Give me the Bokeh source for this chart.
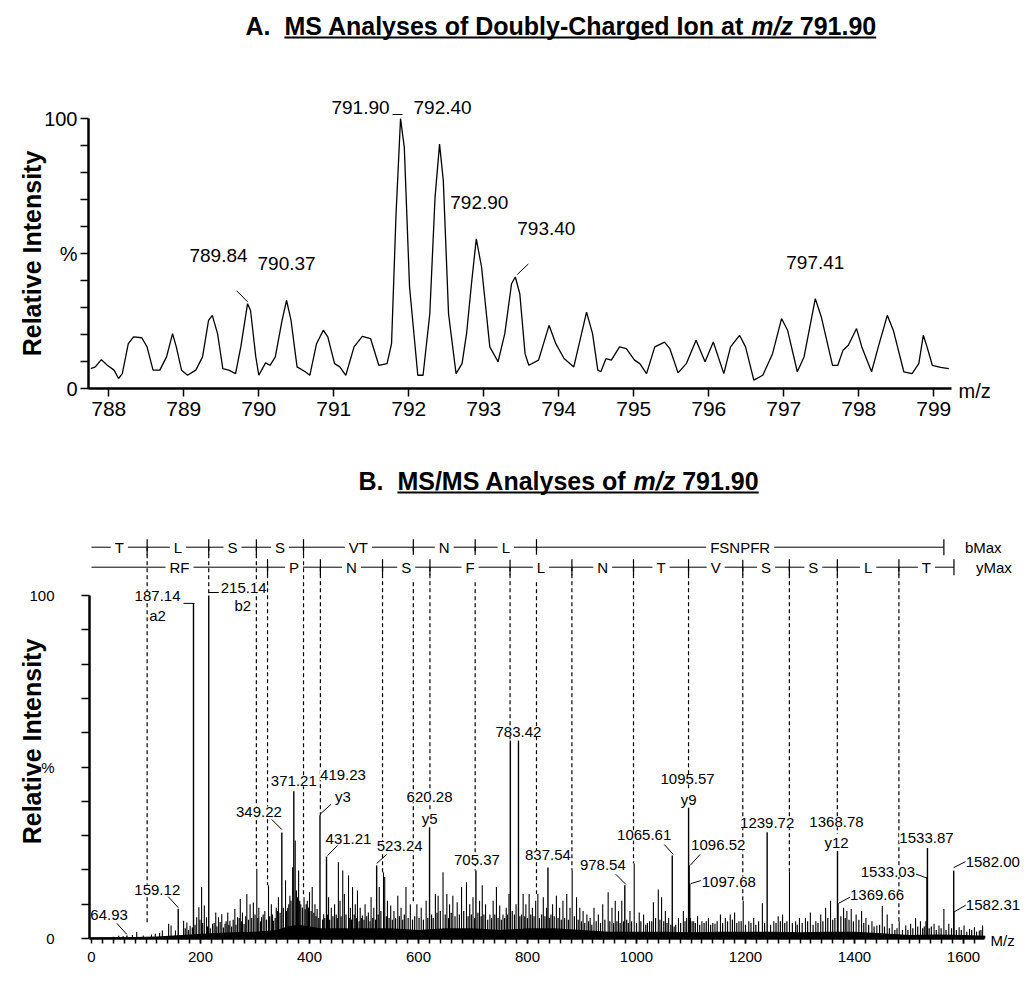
import math
from bokeh.plotting import figure
from bokeh.layouts import column
from bokeh.models import Range1d, FixedTicker
from bokeh.embed import file_html
from bokeh.resources import INLINE
from bokeh.core.properties import value

# ======================= DATA =======================
# Panel A: MS profile trace (m/z, relative intensity %)
ms1_mz = [787.76, 787.82, 787.90, 787.98, 788.07, 788.13, 788.18, 788.26, 788.33, 788.44,
          788.51, 788.59, 788.68, 788.77, 788.85, 788.90, 788.97, 789.05, 789.16, 789.25,
          789.33, 789.38, 789.45, 789.52, 789.60, 789.69, 789.76, 789.85, 789.89, 789.96,
          790.00, 790.09, 790.15, 790.22, 790.31, 790.37, 790.43, 790.51, 790.62, 790.68,
          790.77, 790.86, 790.92, 791.01, 791.08, 791.16, 791.27, 791.38, 791.49, 791.60,
          791.71, 791.77, 791.83, 791.89, 791.94, 792.01, 792.12, 792.19, 792.28, 792.35,
          792.41, 792.46, 792.53, 792.63, 792.71, 792.77, 792.84, 792.90, 792.97, 793.08,
          793.19, 793.28, 793.37, 793.42, 793.48, 793.55, 793.60, 793.73, 793.87, 793.96,
          794.07, 794.20, 794.37, 794.45, 794.52, 794.56, 794.63, 794.70, 794.81, 794.90,
          795.01, 795.08, 795.17, 795.28, 795.41, 795.48, 795.59, 795.70, 795.83, 795.95,
          796.06, 796.20, 796.29, 796.41, 796.49, 796.60, 796.72, 796.85, 796.97, 797.05,
          797.18, 797.27, 797.42, 797.50, 797.65, 797.72, 797.79, 797.86, 797.97, 798.04,
          798.17, 798.26, 798.38, 798.46, 798.60, 798.71, 798.80, 798.86, 798.91, 798.98,
          799.09, 799.20]
ms1_int = [7.4, 8.0, 10.7, 8.6, 6.8, 3.7, 5.5, 16.6, 19.1, 18.8,
           15.4, 6.8, 6.8, 11.7, 20.3, 15.4, 6.8, 4.9, 6.8, 11.7,
           25.2, 27.1, 20.3, 7.4, 6.8, 5.5, 15.4, 31.4, 28.9, 11.7,
           4.9, 9.5, 8.6, 11.7, 25.2, 32.6, 25.2, 8.0, 6.2, 4.9,
           16.6, 21.6, 19.1, 9.2, 8.0, 4.9, 15.4, 19.3, 18.5, 8.6,
           9.2, 16.6, 64.7, 100.0, 89.3, 37.6, 4.9, 4.9, 27.7, 70.8,
           90.5, 77.0, 27.7, 5.5, 9.2, 20.3, 40.0, 55.4, 45.0, 15.4,
           9.9, 20.3, 38.8, 41.3, 35.1, 12.9, 8.6, 10.5, 23.4, 16.6,
           11.1, 8.0, 28.3, 20.3, 6.8, 6.2, 11.1, 10.5, 15.4, 14.8,
           10.5, 9.2, 5.5, 15.4, 17.2, 14.8, 5.8, 9.2, 17.9, 9.9,
           17.2, 5.5, 15.4, 19.7, 15.4, 3.1, 4.9, 12.9, 25.9, 21.6,
           6.2, 11.7, 33.3, 26.5, 8.6, 8.6, 14.2, 16.0, 22.2, 15.4,
           6.2, 15.4, 27.1, 21.6, 6.2, 5.5, 9.2, 19.7, 15.4, 8.6,
           7.8, 7.4]
ms1_label_text = ["789.84", "790.37", "791.90", "792.40", "792.90", "793.40", "797.41"]
ms1_label_mz = [789.85, 790.37, 791.89, 792.41, 792.90, 793.42, 797.42]
ms1_label_int = [31.4, 32.6, 100.0, 90.5, 55.4, 41.3, 33.3]
ms1_x_ticks = [788, 789, 790, 791, 792, 793, 794, 795, 796, 797, 798, 799]
y_tick_labels = {0: "0", 50: "%", 100: "100"}

# Panel B: MS/MS stick spectrum
ms2_peak_mz = [64.93, 159.12, 187.14, 215.14, 349.22, 371.21, 419.23, 431.21, 523.24, 620.28,
               705.37, 768.5, 783.42, 837.54, 978.54, 1065.61, 1095.57, 1096.52, 1097.68, 1239.72,
               1368.78, 1369.66, 1533.03, 1533.87, 1582.00, 1582.31]
ms2_peak_int = [0.9, 8.7, 97.7, 100.0, 30.9, 42.9, 35.9, 23.9, 21.3, 32.4,
                19.8, 57.7, 57.7, 20.7, 15.5, 24.2, 38.3, 21.3, 16.0, 31.0,
                25.7, 10.3, 17.9, 26.4, 19.8, 7.7]
ms2_label_text = ["64.93", "159.12", "187.14", "215.14", "349.22", "371.21", "419.23", "431.21",
                  "523.24", "620.28", "705.37", "783.42", "837.54", "978.54", "1065.61", "1095.57",
                  "1096.52", "1097.68", "1239.72", "1368.78", "1369.66", "1533.03", "1533.87",
                  "1582.00", "1582.31"]
ms2_ion_text = ["a2", "b2", "y3", "y5", "y9", "y12"]
ms2_ion_mz = [187.14, 215.14, 419.23, 620.28, 1095.57, 1368.78]

ms2_noise_mz = [40, 50, 58, 75, 83, 95, 110, 117, 125, 130, 141.5, 146, 154, 169, 175, 181, 193, 197,
                202, 207, 211, 222, 228, 233, 239, 245, 250, 254, 263, 268, 273, 277, 285, 291, 297,
                303.3, 307, 312, 318, 324.8, 330, 334, 339, 343, 356, 360, 364, 369, 373.8, 380, 384,
                390, 396, 400, 405, 410, 414, 426, 435, 440, 446, 453, 456, 461, 464, 471.6, 475, 479,
                484, 488, 493, 497, 502, 508, 513, 518, 528, 535.8, 538, 543, 549, 555,
                562, 568, 577, 585, 597, 605, 614, 631, 636, 645, 652, 657, 663, 671, 679, 688, 694,
                700, 712, 717, 723, 731, 737, 743, 749, 755, 761, 766, 779, 792, 797, 803, 809, 815,
                819, 829, 835, 846, 853, 859, 865, 872, 878, 882, 890, 896, 902, 909, 915, 922, 930,
                938, 948, 955, 961, 967, 973, 988, 995.8, 1005, 1013, 1024, 1031, 1040, 1046, 1053,
                1059, 1077, 1086, 1092, 1105, 1112, 1120, 1132, 1144, 1154, 1163, 1172, 1180, 1188,
                1195.8, 1206, 1215, 1231, 1252, 1260, 1268, 1280.7, 1292, 1299, 1310, 1319, 1329,
                1338, 1347, 1356, 1380, 1386, 1394, 1403, 1413, 1421, 1432, 1441, 1451, 1460, 1469,
                1482, 1494, 1503, 1512, 1521, 1531, 1546, 1555, 1564, 1573, 1592, 1601, 1611, 1620,
                1629, 1635]
ms2_noise_int = [0.5, 0.8, 0.7, 1.0, 1.9, 0.9, 1.2, 1.4, 1.6, 2.3, 4.3, 3.8, 2.3, 5.2, 4.7, 3.7, 6.2, 9.1,
                 15.0, 9.6, 6.2, 4.3, 7.6, 6.2, 7.1, 4.3, 7.6, 5.2, 8.6, 6.2, 11.5, 7.6, 13.0, 10.0, 10.5,
                 20.3, 9.0, 6.2, 8.0, 15.5, 10.0, 5.2, 9.0, 12.0, 17.0, 9.0, 12.5, 20.8, 28.6, 19.8, 10.0,
                 12.0, 11.0, 13.5, 15.0, 10.0, 8.6, 7.1, 12.0, 9.0, 10.0, 22.2, 11.0, 19.8, 13.0, 18.4, 9.0, 15.0,
                 10.0, 14.0, 9.0, 6.7, 10.0, 7.6, 12.0, 9.0, 15.0, 19.3, 17.9, 11.0, 9.6, 8.0,
                 12.5, 9.0, 15.0, 10.0, 10.0, 9.0, 11.0, 13.0, 12.5, 19.3, 13.0, 10.0, 12.5, 10.6, 15.0, 16.4, 10.0,
                 12.0, 11.0, 15.5, 10.0, 7.0, 11.0, 15.0, 9.6, 7.0, 9.0, 13.0, 10.0, 13.0, 10.0, 13.0, 9.0, 11.0,
                 13.0, 12.0, 9.0, 10.0, 12.5, 9.0, 11.0, 13.0, 9.0, 19.8, 12.0, 9.0, 8.0, 7.0, 6.0, 9.0, 7.0,
                 10.0, 13.5, 9.0, 11.0, 8.0, 11.0, 8.0, 21.9, 7.6, 7.0, 5.0, 10.6, 14.3, 12.0, 8.0,
                 6.0, 6.0, 8.0, 6.0, 5.0, 6.5, 5.0, 6.0, 4.3, 7.0, 6.0, 7.0, 7.6, 5.0,
                 11.0, 5.0, 6.0, 10.3, 5.0, 6.5, 7.0, 19.5, 5.0, 6.0, 6.0, 7.6, 5.0,
                 7.0, 9.0, 11.0, 9.0, 8.0, 8.6, 7.0, 8.0, 6.0, 5.0, 3.8, 9.5, 7.0, 4.3,
                 5.0, 3.8, 4.3, 6.0, 5.0, 5.0, 4.3, 3.8, 8.6, 4.3, 3.3, 3.8, 2.8, 3.3,
                 2.3, 3.8]
# lower, denser "grass" sticks between the readable peaks (estimated)
ms2_grass_mz = [172, 178, 185, 190, 199, 204, 213, 218, 225, 230, 236, 242, 247, 252, 257, 260, 265, 271,
                275, 280, 283, 288, 294, 300, 305, 310, 315, 321, 327, 332, 337, 341, 346, 352, 358, 362,
                366, 376, 378, 382, 387, 392, 394, 398, 403, 408, 412, 417, 424, 428, 433, 437, 443, 449,
                451, 458, 467, 473, 477, 482, 486, 491, 495, 500, 505, 511, 516, 521, 526, 531, 541, 546,
                552, 558, 565, 571, 574, 581, 589, 593, 601, 609, 617, 624, 627, 634, 640, 649, 655, 660,
                667, 675, 683, 691, 697, 703, 709, 715, 720, 727, 734, 740, 746, 752, 758, 763, 772, 776,
                786, 789, 795, 800, 806, 812, 822, 826, 832, 840, 843, 849, 856, 862, 868, 875, 886, 893,
                899, 905, 912, 918, 926, 934, 942, 951, 958, 964, 970, 976, 982, 985, 991, 1000, 1008,
                1017, 1020, 1028, 1035, 1043, 1050, 1056, 1063, 1069, 1072, 1081, 1089, 1099, 1102, 1108,
                1116, 1124, 1128, 1136, 1140, 1148, 1158, 1167, 1176, 1184, 1192, 1200, 1210, 1219, 1224,
                1235, 1246, 1256, 1264, 1272, 1276, 1286, 1295, 1304, 1314, 1324, 1333, 1342, 1351, 1360,
                1364, 1375, 1383, 1390, 1398, 1408, 1417, 1426, 1436, 1446, 1455, 1464, 1474, 1478, 1488,
                1498, 1507, 1516, 1525, 1528, 1537, 1541, 1550, 1559, 1568, 1578, 1587, 1596, 1606, 1615,
                1624, 1632]
ms2_grass_int = [3.0, 2.5, 3.2, 4.0, 5.5, 4.5, 3.5, 3.0, 4.5, 3.5, 4.8, 3.2, 5.0, 4.0, 3.5, 5.5, 4.0, 6.0,
                 5.0, 4.2, 6.5, 5.5, 6.0, 7.0, 6.0, 5.0, 7.0, 5.5, 6.5, 7.0, 6.0, 8.0, 7.5, 9.0, 8.0, 10.0,
                 11.0, 14.0, 12.0, 11.0, 9.0, 8.5, 10.0, 9.0, 8.0, 7.5, 6.5, 6.0, 5.5, 6.0, 7.0, 5.5, 6.5, 7.0,
                 6.0, 6.5, 7.0, 6.0, 5.5, 7.0, 6.0, 5.0, 6.0, 5.5, 6.5, 5.0, 6.0, 5.5, 7.0, 8.0, 6.5, 6.0,
                 5.5, 6.0, 6.5, 5.5, 7.0, 6.0, 5.5, 6.5, 6.0, 5.5, 6.0, 7.0, 6.0, 7.5, 8.0, 7.0, 6.0, 7.5,
                 6.5, 7.0, 8.0, 6.5, 7.0, 6.0, 7.5, 6.5, 7.0, 5.5, 6.0, 7.0, 6.0, 5.5, 6.0, 7.0, 8.0, 7.0,
                 6.5, 7.0, 6.5, 6.0, 7.0, 6.5, 6.0, 7.0, 6.5, 6.0, 7.0, 6.5, 6.0, 5.5, 6.0, 5.5, 6.5, 5.5,
                 5.0, 4.5, 5.0, 4.0, 5.0, 4.5, 5.5, 5.0, 4.5, 5.0, 4.5, 5.0, 5.5, 4.5, 5.0, 4.5, 5.0,
                 4.0, 4.5, 5.0, 6.0, 5.5, 5.0, 4.5, 4.0, 3.5, 4.0, 4.5, 5.0, 6.0, 5.0, 4.5,
                 4.0, 4.5, 5.0, 4.0, 4.5, 5.0, 4.5, 5.0, 5.5, 4.5, 5.0, 4.0, 4.5, 4.0, 5.0,
                 4.5, 4.0, 4.5, 5.0, 4.5, 5.0, 4.5, 4.0, 4.5, 5.0, 4.0, 4.5, 5.0, 6.0, 5.5,
                 6.0, 6.5, 6.0, 5.5, 5.0, 5.5, 4.5, 4.0, 3.5, 4.0, 3.5, 3.0, 2.5, 3.0, 2.5,
                 2.5, 3.0, 3.5, 3.0, 3.5, 3.0, 3.5, 2.5, 3.0, 2.5, 3.0, 2.5, 2.5, 2.0, 2.5,
                 2.0, 2.5]
# solid low-level baseline envelope
ms2_floor_mz = [0, 60, 120, 150, 180, 220, 260, 300, 340, 360, 380, 400, 420, 450, 500, 550, 600, 650,
                700, 750, 800, 850, 900, 950, 1000, 1050, 1100, 1150, 1200, 1250, 1300, 1350, 1400,
                1450, 1500, 1550, 1600, 1640]
ms2_floor_int = [0.3, 0.4, 0.6, 0.9, 1.2, 1.5, 1.8, 2.0, 2.5, 3.5, 4.0, 3.5, 3.0, 3.0, 3.0, 3.0, 2.5, 3.0,
                 3.0, 2.5, 3.0, 3.0, 2.5, 2.0, 2.0, 2.0, 1.8, 2.0, 2.0, 2.0, 1.8, 2.0, 2.0,
                 1.5, 1.0, 1.2, 1.0, 0.8]
ms2_x_ticks = [0, 200, 400, 600, 800, 1000, 1200, 1400, 1600]

# Sequence ladders
b_bounds = [102.1, 215.1, 302.5, 389.0, 590.5, 704.0, 816.5]
b_max = 1564.0
b_letters = ["T", "L", "S", "S", "VT", "N", "L", "FSNPFR"]
b_dash_end = [4.7, 100.0, 20.3, 12.0, 10.0, 19.8, 13.0]
y_bounds = [323.0, 420.0, 534.0, 621.0, 768.0, 881.5, 994.5, 1095.5, 1195.0, 1280.5, 1368.5, 1481.5]
y_max = 1582.5
y_letters = ["RF", "P", "N", "S", "F", "L", "N", "T", "V", "S", "S", "L", "T"]
y_dash_end = [15.5, 35.9, 19.3, 32.4, 57.7, 19.8, 21.9, 38.3, 11.0, 19.5, 25.7, 5.0]

# ======================= STYLE / GEOMETRY =======================
FONT = "Liberation Sans"
W = 1035
# panel A: frame covers the whole figure (page x 0..1035, y 0..463)
A_H = 463
AX, AY = 75.0, 2.7
A_ZERO_PY = 388.0           # page y of intensity 0
A_X0 = 788 - 108.3 / AX
A_X1 = A_X0 + W / AX
A_Y0 = -(A_H - A_ZERO_PY) / AY
A_Y1 = A_ZERO_PY / AY
A_AXIS_X = 788 - (108.3 - 88) / AX

# panel B: page x 0..1035, y 463..978
B_H = 515
B_TOP = A_H
BX, BY = 0.545, 3.43
B_ZERO_PY = 938.0
B_X0 = -91 / BX
B_X1 = B_X0 + W / BX
B_Y0 = -(B_TOP + B_H - B_ZERO_PY) / BY
B_Y1 = (B_ZERO_PY - B_TOP) / BY
B_AXIS_X = -(91 - 89) / BX


def a_page(px, py):
    return A_X0 + px / AX, (A_ZERO_PY - py) / AY


def b_page(px, py):
    return B_X0 + px / BX, (B_ZERO_PY - py) / BY


BOLD_W = {'A': 722, '.': 278, ' ': 278, 'M': 833, 'S': 667, 'n': 611, 'a': 556, 'l': 278, 'y': 556,
          's': 556, 'e': 556, 'o': 611, 'f': 333, 'D': 722, 'u': 611, 'b': 611, '-': 333, 'C': 722,
          'h': 611, 'r': 389, 'g': 611, 'd': 611, 'I': 278, 't': 333, 'm': 889, '/': 278, 'z': 500,
          '7': 556, '9': 556, '1': 556, '0': 556, 'B': 722}


def tw(s, size):
    return sum(BOLD_W.get(c, 556) for c in s) * size / 1000.0


def add_title(p, conv, left_px, cy_px, parts, size=25):
    x = left_px
    ul_start = None
    for text, style, underline in parts:
        lead = len(text) - len(text.lstrip())
        if underline and ul_start is None:
            ul_start = x + tw(text[:lead], size)
        if text.strip():
            lx, ly = conv(x + tw(text[:lead], size), cy_px)
            p.text(x=[lx], y=[ly], text=[text.strip()], text_font=value(FONT), text_font_size="%dpx" % size,
                   text_font_style=style, text_align="left", text_baseline="middle", text_color="black")
        x += tw(text, size)
    x0, y0 = conv(ul_start, cy_px + 12)
    x1, y1 = conv(x, cy_px + 12)
    p.segment(x0=[x0], y0=[y0], x1=[x1], y1=[y1], line_color="black", line_width=2)


def style_fig(p):
    p.outline_line_color = None
    p.grid.visible = False
    p.background_fill_color = "white"
    p.border_fill_color = "white"


def add_text(p, xs, ys, texts, aligns, dxs, dys, size, bg=False):
    for al in ("left", "center", "right"):
        idx = [i for i, a in enumerate(aligns) if a == al]
        if not idx:
            continue
        kw = {}
        if bg:
            kw = dict(background_fill_color="white", padding=0)
        p.text(x=[xs[i] for i in idx], y=[ys[i] for i in idx], text=[texts[i] for i in idx],
               x_offset=[dxs[i] for i in idx], y_offset=[dys[i] for i in idx],
               text_align=al, text_baseline="middle", text_font=value(FONT),
               text_font_size=size, text_color="black", **kw)


def add_side_text(p, conv, px, py, text, size, style="normal", angle=0.0, align="left"):
    lx, ly = conv(px, py)
    p.text(x=[lx], y=[ly], text=[text], angle=angle, text_align=align, text_baseline="middle",
           text_font=value(FONT), text_font_size=size, text_font_style=style, text_color="black")


# ======================= PANEL A =======================
pA = figure(width=W, height=A_H, output_backend="svg", toolbar_location=None,
            x_range=Range1d(A_X0, A_X1), y_range=Range1d(A_Y0, A_Y1), min_border=0)
style_fig(pA)
pA.line(ms1_mz, ms1_int, line_color="black", line_width=1.3)

pA.xaxis.fixed_location = 0
pA.yaxis.fixed_location = A_AXIS_X
pA.xaxis.ticker = FixedTicker(ticks=ms1_x_ticks)
pA.xaxis.bounds = (A_AXIS_X, 799.23)
pA.yaxis.ticker = FixedTicker(ticks=[0, 50, 100], minor_ticks=[10, 20, 30, 40, 60, 70, 80, 90])
pA.yaxis.bounds = (0, 100)
pA.yaxis.major_label_overrides = y_tick_labels
for ax in (pA.xaxis[0], pA.yaxis[0]):
    ax.axis_line_width = 2.5
    ax.axis_line_color = "black"
    ax.major_tick_in = 0
    ax.major_tick_out = 8
    ax.minor_tick_in = 0
    ax.minor_tick_out = 8
    ax.major_tick_line_width = 1.5
    ax.minor_tick_line_width = 1.5
    ax.major_label_text_font = FONT
    ax.major_label_text_font_size = "20px"
    ax.major_label_text_color = "black"
pA.xaxis.minor_tick_line_color = None
pA.xaxis.major_label_text_font_size = "21px"
pA.xaxis.major_label_standoff = 5
pA.yaxis.major_label_standoff = 3

A_LABEL_STYLE = {
    "789.84": ("right", 0, -48, (-11, -13, 0, -2)),
    "790.37": ("center", 0, -37, None),
    "791.90": ("right", -11, -11, (-8, -4, 2, -4)),
    "792.40": ("center", 3, -37, None),
    "792.90": ("center", 3, -36, None),
    "793.40": ("left", 2, -48, (2, -2.5, 13, -13)),
    "797.41": ("center", 0, -36, None),
}
al, dx, dy, lx0, ly0, lx1, ly1 = [], [], [], [], [], [], []
for t, m, v in zip(ms1_label_text, ms1_label_mz, ms1_label_int):
    a, ddx, ddy, lead = A_LABEL_STYLE[t]
    al.append(a); dx.append(ddx); dy.append(ddy)
    if lead:
        lx0.append(m + lead[0] / AX); ly0.append(v - lead[1] / AY)
        lx1.append(m + lead[2] / AX); ly1.append(v - lead[3] / AY)
add_text(pA, ms1_label_mz, ms1_label_int, ms1_label_text, al, dx, dy, "19px")
pA.segment(x0=lx0, y0=ly0, x1=lx1, y1=ly1, line_color="black", line_width=1)

add_title(pA, a_page, 245, 25, [("A.", "bold", False), ("  ", "bold", False),
                                ("MS Analyses of Doubly-Charged Ion at ", "bold", True),
                                ("m/z", "bold italic", True), (" 791.90", "bold", True)])
add_side_text(pA, a_page, 31, 253, "Relative Intensity", "25px", "bold", math.pi / 2, "center")
add_side_text(pA, a_page, 958, 390, "m/z", "20px")

# ======================= PANEL B =======================
pB = figure(width=W, height=B_H, output_backend="svg", toolbar_location=None,
            x_range=Range1d(B_X0, B_X1), y_range=Range1d(B_Y0, B_Y1), min_border=0)
style_fig(pB)

ROW_B = (B_ZERO_PY - 546.7) / BY
ROW_Y = (B_ZERO_PY - 566.7) / BY
TICK_H = 8 / BY

# dashed fragment lines
pB.segment(x0=b_bounds, y0=[ROW_B] * len(b_bounds), x1=b_bounds, y1=b_dash_end,
           line_color="black", line_width=1.2, line_dash="4 3")
pB.segment(x0=y_bounds, y0=[ROW_Y] * len(y_bounds), x1=y_bounds, y1=y_dash_end,
           line_color="black", line_width=1.2, line_dash="4 3")

# spectrum
pB.varea(x=ms2_floor_mz, y1=[0] * len(ms2_floor_mz), y2=ms2_floor_int, fill_color="black")
pB.segment(x0=ms2_grass_mz, y0=[0] * len(ms2_grass_mz), x1=ms2_grass_mz, y1=ms2_grass_int,
           line_color="black", line_width=1.2)
pB.segment(x0=ms2_noise_mz, y0=[0] * len(ms2_noise_mz), x1=ms2_noise_mz, y1=ms2_noise_int,
           line_color="black", line_width=1.1)
pB.segment(x0=ms2_peak_mz, y0=[0] * len(ms2_peak_mz), x1=ms2_peak_mz, y1=ms2_peak_int,
           line_color="black", line_width=1.4)

# ladders
pB.segment(x0=[0, 0], y0=[ROW_B, ROW_Y], x1=[b_max, y_max], y1=[ROW_B, ROW_Y],
           line_color="black", line_width=1)
bt = b_bounds + [b_max]
yt = y_bounds + [y_max]
pB.segment(x0=bt, y0=[ROW_B - TICK_H] * len(bt), x1=bt, y1=[ROW_B + TICK_H] * len(bt),
           line_color="black", line_width=1.2)
pB.segment(x0=yt, y0=[ROW_Y - TICK_H] * len(yt), x1=yt, y1=[ROW_Y + TICK_H] * len(yt),
           line_color="black", line_width=1.2)
b_edges = [0] + bt
y_edges = [0] + yt
b_mid = [(b_edges[i] + b_edges[i + 1]) / 2 for i in range(len(b_letters))]
y_mid = [(y_edges[i] + y_edges[i + 1]) / 2 for i in range(len(y_letters))]
pB.text(x=b_mid, y=[ROW_B] * len(b_mid), text=b_letters, text_align="center", text_baseline="middle",
        text_font=value(FONT), text_font_size="15px", text_color="black",
        background_fill_color="white", padding=4)
pB.text(x=y_mid, y=[ROW_Y] * len(y_mid), text=y_letters, text_align="center", text_baseline="middle",
        text_font=value(FONT), text_font_size="15px", text_color="black",
        background_fill_color="white", padding=4)
pB.text(x=[b_max, y_max], y=[ROW_B, ROW_Y], text=["bMax", "yMax"], x_offset=[21, 22], y_offset=[0, 0],
        text_align="left", text_baseline="middle", text_font=value(FONT), text_font_size="15px",
        text_color="black")

# peak labels
B_LABEL_STYLE = {
    "64.93": ("right", 1, -20, (-10, -12, 0, -1)),
    "159.12": ("right", 2, -19, (-10, -12, 0, -1)),
    "187.14": ("right", -13, -7, (-10, 0, 1, 0)),
    "215.14": ("left", 12, -8, (0, -3, 10, -3)),
    "349.22": ("right", 0, -21, (-10, -13, 0, -3)),
    "371.21": ("center", 0, -10, None),
    "419.23": ("center", 23, -40, (1, -2, 11, -11)),
    "431.21": ("center", 22, -18, (1, -1, 11, -11)),
    "523.24": ("center", 23, -19, (0, -2, 10, -11)),
    "620.28": ("center", 0, -30, None),
    "705.37": ("center", 1, -11, None),
    "783.42": ("center", 0, -9, None),
    "837.54": ("center", 0, -12, None),
    "978.54": ("right", 1, -20, (-9, -11, 1, -1)),
    "1065.61": ("right", -1, -20, (-8, -11, 1, -1)),
    "1095.57": ("center", -1, -28, None),
    "1096.52": ("left", 2, -20, (1, 0, 11, -11)),
    "1097.68": ("left", 12, -2, (1, 0, 11, -3)),
    "1239.72": ("center", 0, -9, None),
    "1368.78": ("center", -1, -28, None),
    "1369.66": ("left", 12, -8, (1, 0, 12, -6)),
    "1533.87": ("center", -1, -10, None),
    "1533.03": ("right", -12, -5, (-11, -3, 0, 1)),
    "1582.00": ("left", 12, -9, (0, -3, 12, -9)),
    "1582.31": ("left", 12, -7, (0, 0, 12, -7)),
}
ION_STYLE = {"a2": (-36, 12), "b2": (34, 10), "y3": (23, -19), "y5": (0, -9), "y9": (0, -8), "y12": (-1, -8)}

peak_lookup = dict(zip(ms2_peak_mz, ms2_peak_int))
lab_x, lab_y, al, dx, dy, lx0, ly0, lx1, ly1 = [], [], [], [], [], [], [], [], []
for t in ms2_label_text:
    m = float(t)
    v = peak_lookup[m]
    a, ddx, ddy, lead = B_LABEL_STYLE[t]
    lab_x.append(m); lab_y.append(v); al.append(a); dx.append(ddx); dy.append(ddy)
    if lead:
        lx0.append(m + lead[0] / BX); ly0.append(v - lead[1] / BY)
        lx1.append(m + lead[2] / BX); ly1.append(v - lead[3] / BY)
pB.segment(x0=lx0, y0=ly0, x1=lx1, y1=ly1, line_color="black", line_width=1)
add_text(pB, lab_x, lab_y, ms2_label_text, al, dx, dy, "15px", bg=True)
ion_y = [peak_lookup[m] for m in ms2_ion_mz]
add_text(pB, ms2_ion_mz, ion_y, ms2_ion_text, ["center"] * len(ms2_ion_text),
         [ION_STYLE[t][0] for t in ms2_ion_text], [ION_STYLE[t][1] for t in ms2_ion_text], "15px", bg=True)

# axes B
pB.xaxis.fixed_location = 0
pB.yaxis.fixed_location = B_AXIS_X
pB.xaxis.ticker = FixedTicker(ticks=ms2_x_ticks, minor_ticks=list(range(20, 1640, 20)))
pB.xaxis.bounds = (B_AXIS_X, 1638)
pB.yaxis.ticker = FixedTicker(ticks=[0, 50, 100], minor_ticks=[10, 20, 30, 40, 60, 70, 80, 90])
pB.yaxis.bounds = (0, 100)
pB.yaxis.major_label_overrides = y_tick_labels
for ax in (pB.xaxis[0], pB.yaxis[0]):
    ax.axis_line_width = 2.5
    ax.axis_line_color = "black"
    ax.major_tick_in = 0
    ax.minor_tick_in = 0
    ax.major_tick_line_width = 1.5
    ax.minor_tick_line_width = 1.5
    ax.major_label_text_font = FONT
    ax.major_label_text_font_size = "15px"
    ax.major_label_text_color = "black"
pB.xaxis.major_tick_out = 5
pB.xaxis.minor_tick_out = 5
pB.xaxis.major_label_standoff = 8
pB.yaxis.major_tick_out = 8
pB.yaxis.minor_tick_out = 8
pB.yaxis.major_label_standoff = 27

add_title(pB, b_page, 358, 480, [("B.", "bold", False), ("  ", "bold", False),
                                 ("MS/MS Analyses of ", "bold", True),
                                 ("m/z", "bold italic", True), (" 791.90", "bold", True)])
add_side_text(pB, b_page, 31, 741, "Relative Intensity", "25px", "bold", math.pi / 2, "center")
add_side_text(pB, b_page, 990, 940, "M/z", "15px")

layout = column(pA, pB)
open("out.html", "w").write(file_html(layout, INLINE))
